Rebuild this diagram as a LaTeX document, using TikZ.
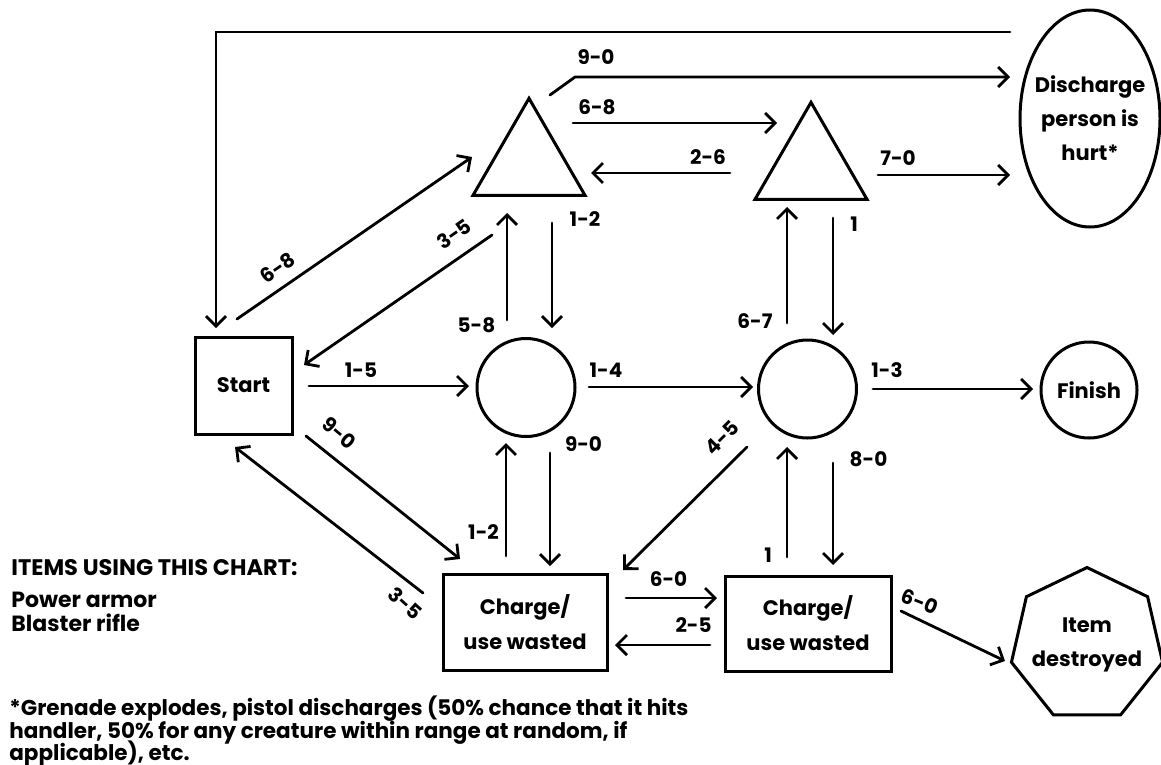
\documentclass[tikz,border=0pt]{standalone}
\usepackage{fontspec}
\setmainfont{Poppins}
\usetikzlibrary{arrows.meta,shapes.geometric,calc}
\begin{document}
\begin{tikzpicture}[x=1pt,y=-1pt,line width=2.8pt,
  arr/.style={-{Straight Barb[length=10pt,width=20pt]},line width=2.8pt,line cap=round},
  lab/.style={font=\bfseries\fontsize{20}{20}\selectfont,inner sep=0pt},
  shp/.style={draw,inner sep=0pt,line width=3pt},
  box/.style={shp,rectangle,align=center,font=\bfseries\fontsize{21}{35}\selectfont},
  txt/.style={inner sep=0pt,align=center,font=\bfseries\fontsize{21}{34}\selectfont},
  tri/.style={shp,regular polygon,regular polygon sides=3,minimum size=129.3pt},
  ftxt/.style={inner sep=0pt,anchor=base west,font=\bfseries\fontsize{21.5}{22.5}\selectfont}]
\useasboundingbox (0,0) rectangle (1161,764);
% nodes
\node[box,minimum width=97pt,minimum height=97pt] (start) at (243.5,385.5) {Start};
\node[shp,circle,minimum size=98pt] (c1) at (526,387.5) {};
\node[shp,circle,minimum size=98pt] (c2) at (807.5,389) {};
\node[shp,circle,minimum size=96pt,font=\bfseries\fontsize{21}{21}\selectfont] (fin) at (1089,390) {Finish};
\node[box,minimum width=164pt,minimum height=96pt] (ch1) at (525,622) {Charge/\\use wasted};
\node[box,minimum width=166pt,minimum height=95pt] (ch2) at (808,623.5) {Charge/\\use wasted};
\node[tri] (t1) at (529,163) {};
\node[tri] (t2) at (811,167) {};
\node[shp,ellipse,minimum width=140pt,minimum height=217pt] (dis) at (1090,118.5) {};
\node[txt] (distxt) at (dis) {Discharge\\person is\\hurt*};
\node[shp,regular polygon,regular polygon sides=7,minimum size=155pt] (hept) at (1087,645) {};
\node[txt] (hepttxt) at (hept) {Item\\destroyed};
% connectors
\draw[arr] ($(dis)+(-80,-86.5)$) -| ($(start)+(-27.5,-57.5)$);
\draw[arr] ($(t1)+(21,-68)$) -- ($(t1)+(46,-86)$) -- ($(dis)+(-80,-41.5)$);
\draw[arr] ($(t1)+(44,-40)$) -- ($(t2)+(-34,-44)$);
\draw[arr] ($(t2)+(-81,6)$) -- ($(t1)+(62,10)$);
\draw[arr] ($(t2)+(67,8)$) -- ($(dis)+(-80,56.5)$);
\draw[arr] ($(start)+(-6.5,-66.5)$) -- ($(t1)+(-57,-6)$);
\draw[arr] ($(t1)+(-37,72)$) -- ($(start)+(60.5,-20.5)$);
\draw[arr] ($(start)+(65.5,0.5)$) -- ($(c1)+(-57,-1.5)$);
\draw[arr] ($(c1)+(63,-0.5)$) -- ($(c2)+(-54.5,-2)$);
\draw[arr] ($(c2)+(65.5,0)$) -- ($(fin)+(-56,-1)$);
\draw[arr] ($(c1)+(-19,-67.5)$) -- ($(t1)+(-22,50)$);
\draw[arr] ($(t1)+(23,60)$) -- ($(c1)+(26,-59.5)$);
\draw[arr] ($(c2)+(-20.5,-66)$) -- ($(t2)+(-24,40)$);
\draw[arr] ($(t2)+(22,51)$) -- ($(c2)+(25.5,-54)$);
\draw[arr] ($(ch1)+(-19,-66)$) -- ($(c1)+(-20,55.5)$);
\draw[arr] ($(c1)+(24,65.5)$) -- ($(ch1)+(25,-56)$);
\draw[arr] ($(ch2)+(-21,-66.5)$) -- ($(c2)+(-20.5,58)$);
\draw[arr] ($(c2)+(25.5,74)$) -- ($(ch2)+(25,-58.5)$);
\draw[arr] ($(start)+(62.5,50.5)$) -- ($(ch1)+(-65,-63)$);
\draw[arr] ($(ch1)+(-102,-29)$) -- ($(start)+(-8.5,61.5)$);
\draw[arr] ($(c2)+(-60.5,58)$) -- ($(ch1)+(98,-52)$);
\draw[arr] ($(ch1)+(101,-24)$) -- ($(ch2)+(-91,-25.5)$);
\draw[arr] ($(ch2)+(-98,21.5)$) -- ($(ch1)+(90,23)$);
\draw[arr] ($(ch2)+(93,-12.5)$) -- ($(hept)+(-82,16)$);
% labels
\node[lab] (l1) at (596,57.5) {9-0};
\node[lab] (l2) at (597,107.5) {6-8};
\node[lab] (l3) at (708,157) {2-6};
\node[lab] (l4) at (898,158) {7-0};
\node[lab] (l5) at (585,219.5) {1-2};
\node[lab] (l6) at (854,224) {1};
\node[lab,rotate=35] (l7) at (278,268) {6-8};
\node[lab,rotate=35] (l8) at (454,234) {3-5};
\node[lab] (l9) at (476.5,325.5) {5-8};
\node[lab] (l10) at (755,321) {6-7};
\node[lab] (l11) at (361,370) {1-5};
\node[lab] (l12) at (606,370) {1-4};
\node[lab] (l13) at (887,370) {1-3};
\node[lab] (l14) at (583.5,444.5) {9-0};
\node[lab] (l15) at (868.5,459) {8-0};
\node[lab,rotate=-40] (l16) at (339,433) {9-0};
\node[lab,rotate=45] (l17) at (722,438) {4-5};
\node[lab] (l18) at (483.5,532.5) {1-2};
\node[lab] (l19) at (768,555.5) {1};
\node[lab,rotate=-42] (l20) at (405,603) {3-5};
\node[lab] (l21) at (668.5,579.5) {6-0};
\node[lab] (l22) at (693.5,625.5) {2-5};
\node[lab,rotate=-22] (l23) at (920,602) {6-0};
% side texts
\node[ftxt,font=\bfseries\fontsize{22.5}{22.5}\selectfont] (items) at (10,575) {ITEMS USING THIS CHART:};
\node[ftxt,font=\bfseries\fontsize{22}{22}\selectfont] (it1) at (10,607) {Power armor};
\node[ftxt,font=\bfseries\fontsize{22}{22}\selectfont] (it2) at (10,631) {Blaster rifle};
\node[ftxt] (f1) at (8,715) {*Grenade explodes, pistol discharges (50\% chance that it hits};
\node[ftxt] (f2) at (8,738) {handler, 50\% for any creature within range at random, if};
\node[ftxt] (f3) at (8,760) {applicable), etc.};
\end{tikzpicture}
\end{document}
